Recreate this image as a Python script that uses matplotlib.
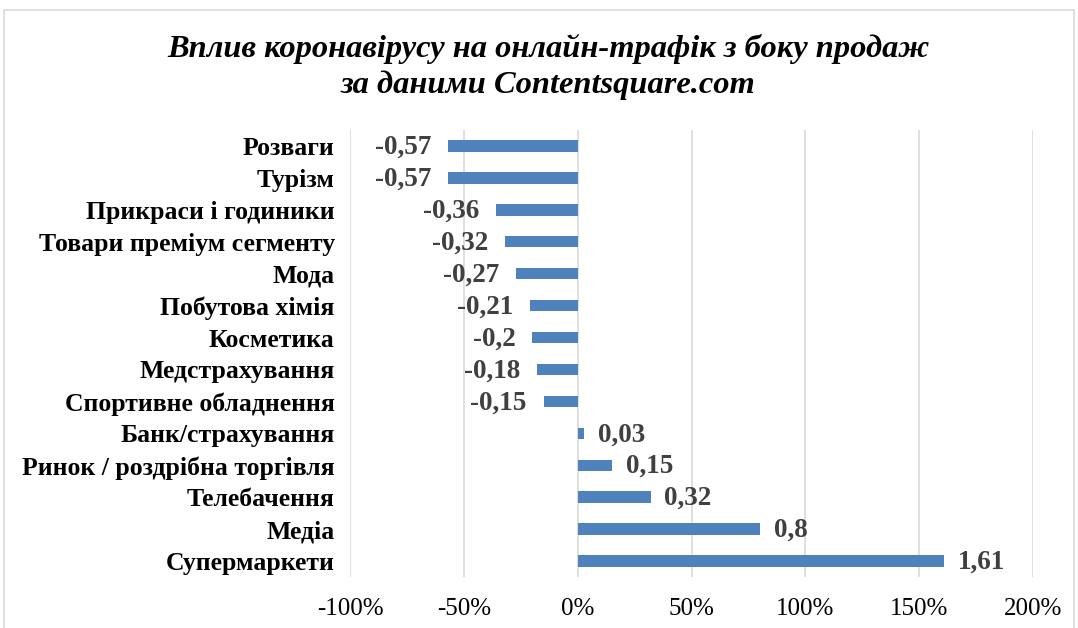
import matplotlib
matplotlib.use("Agg")
import matplotlib.pyplot as plt
from matplotlib.patches import Rectangle
from matplotlib.ticker import FuncFormatter

categories = ["Розваги", "Турізм", "Прикраси і годиники", "Товари преміум сегменту",
              "Мода", "Побутова хімія", "Косметика", "Медстрахування",
              "Спортивне обладнення", "Банк/страхування", "Ринок / роздрібна торгівля",
              "Телебачення", "Медіа", "Супермаркети"]
values = [-0.57, -0.57, -0.36, -0.32, -0.27, -0.21, -0.2, -0.18, -0.15,
          0.03, 0.15, 0.32, 0.8, 1.61]
value_labels = ["-0,57", "-0,57", "-0,36", "-0,32", "-0,27", "-0,21", "-0,2", "-0,18",
                "-0,15", "0,03", "0,15", "0,32", "0,8", "1,61"]
title = "Вплив коронавірусу на онлайн-трафік з боку продаж\nза даними Contentsquare.com"

W, H = 1078, 628
fig = plt.figure(figsize=(W / 100, H / 100), dpi=100)
plt.rcParams['font.family'] = ['Liberation Serif', 'DejaVu Serif']

fig.patches.append(Rectangle((4 / W, -0.01), (W - 8) / W, 1 - 10 / H + 0.01,
                             transform=fig.transFigure, fill=False,
                             edgecolor="#d9d9d9", linewidth=1.2))

ax = fig.add_axes([350 / W, 1 - 577 / H, (1033 - 350) / W, (577 - 130) / H])
y = list(range(len(categories)))
ax.barh(y, values, height=0.36, color="#4F81BD", zorder=3)
ax.set_ylim(len(categories) - 0.5, -0.5)
ax.set_xlim(-1, 2)
ax.set_xticks([-1, -0.5, 0, 0.5, 1, 1.5, 2])
ax.xaxis.set_major_formatter(FuncFormatter(lambda v, p: f"{v*100:.0f}%"))
ax.set_yticks(y)
ax.set_yticklabels(categories, fontsize=18.5, fontweight="bold")
ax.tick_params(axis="y", length=0, pad=11)
ax.tick_params(axis="x", length=0, pad=15, labelsize=18)
ax.grid(axis="x", color="#d9d9d9", linewidth=1.2, zorder=0)
for s in ax.spines.values():
    s.set_visible(False)

for yi, v, lab in zip(y, values, value_labels):
    if v < 0:
        ax.annotate(lab, (v, yi), xytext=(-12, -1), textcoords="offset points",
                    ha="right", va="center", fontsize=19.5, fontweight="bold",
                    color="#404040")
    else:
        ax.annotate(lab, (v, yi), xytext=(10, -1), textcoords="offset points",
                    ha="left", va="center", fontsize=19.5, fontweight="bold",
                    color="#404040")

fig.text(548 / W, 1 - 67 / H, title, ha="center", va="center", fontsize=23.4,
         fontweight="bold", fontstyle="italic", linespacing=1.3)

fig.savefig("out.png", dpi=100)
